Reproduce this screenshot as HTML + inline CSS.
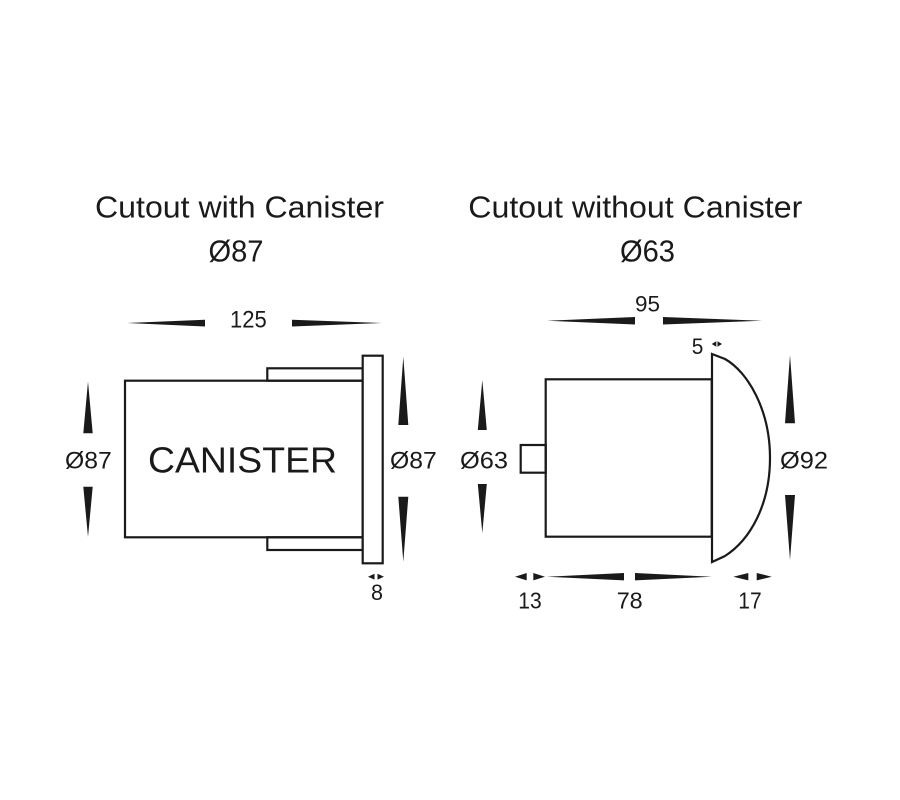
<!DOCTYPE html>
<html>
<head>
<meta charset="utf-8">
<style>
html,body{margin:0;padding:0;background:#fff;}
svg{display:block;}
text{font-family:"Liberation Sans",Arial,sans-serif;fill:#1a1a1a;}
</style>
</head>
<body>
<svg width="900" height="800" viewBox="0 0 900 800" xmlns="http://www.w3.org/2000/svg">
<rect width="900" height="800" fill="#fff"/>

<!-- Titles -->
<text x="95" y="217.3" font-size="31" textLength="289" lengthAdjust="spacingAndGlyphs">Cutout with Canister</text>
<text x="208.5" y="261.7" font-size="31" textLength="55" lengthAdjust="spacingAndGlyphs">Ø87</text>
<text x="468.3" y="217.3" font-size="31" textLength="334" lengthAdjust="spacingAndGlyphs">Cutout without Canister</text>
<text x="620" y="261.7" font-size="31" textLength="55" lengthAdjust="spacingAndGlyphs">Ø63</text>

<g fill="#1a1a1a" stroke="none">
  <!-- 125 -->
  <polygon points="127,323 205,319.8 205,326.5"/>
  <polygon points="292,319.8 292,326.5 382,323"/>
  <!-- left Ø87 -->
  <polygon points="88,381.5 83.3,433.3 92.7,433.3"/>
  <polygon points="83.3,486.7 92.7,486.7 88,537"/>
  <!-- right Ø87 -->
  <polygon points="403.3,356.7 398.3,425 408.3,425"/>
  <polygon points="398.3,496.7 408.3,496.7 403.3,561.7"/>
  <!-- 8 -->
  <polygon points="368,576.7 374.5,573.8 374.5,579.6"/>
  <polygon points="377.5,573.8 377.5,579.6 384,576.7"/>

  <!-- 95 -->
  <polygon points="547,320.7 635,317 635,324.5"/>
  <polygon points="663,317 663,324.5 762,320.7"/>
  <!-- 5 -->
  <polygon points="711.7,344 716.3,341.3 716.3,346.7"/>
  <polygon points="717.5,341.3 717.5,346.7 722,344"/>
  <!-- Ø63 -->
  <polygon points="482.3,380 477.8,430 486.8,430"/>
  <polygon points="477.8,484 486.8,484 482.3,533"/>
  <!-- Ø92 -->
  <polygon points="790,355 785,423.3 795,423.3"/>
  <polygon points="785,495 795,495 790,560"/>
  <!-- 13 -->
  <polygon points="515,576.7 526.7,573 526.7,580.4"/>
  <polygon points="533.3,573 533.3,580.4 545,576.7"/>
  <!-- 78 -->
  <polygon points="546.7,576.7 624,573 624,580.4"/>
  <polygon points="635,573 635,580.4 711.7,576.7"/>
  <!-- 17 -->
  <polygon points="733.3,576.7 748.3,573 748.3,580.4"/>
  <polygon points="756.7,573 756.7,580.4 771.7,576.7"/>
</g>

<!-- Left drawing: canister -->
<g fill="none" stroke="#1a1a1a" stroke-width="2.2">
  <rect x="125" y="380.7" width="237.7" height="156.6"/>
  <rect x="267.3" y="368.3" width="95.4" height="12.4"/>
  <rect x="267.3" y="537.3" width="95.4" height="12.7"/>
  <rect x="362.7" y="355.7" width="20" height="207.6" fill="#fff"/>
</g>

<!-- Right drawing -->
<g fill="none" stroke="#1a1a1a" stroke-width="2.2">
  <rect x="545.7" y="379.3" width="166" height="157.4"/>
  <rect x="520.7" y="445" width="25" height="27.7"/>
  <path d="M712,354 L725,359 C748,372 770,410 770,458 C770,505 750,540 725,556 L712,562 Z"/>
</g>

<!-- Labels -->
<text x="230" y="327.3" font-size="24" textLength="36.7" lengthAdjust="spacingAndGlyphs">125</text>
<text x="65" y="468.3" font-size="24" textLength="46.7" lengthAdjust="spacingAndGlyphs">Ø87</text>
<text x="148" y="472.7" font-size="36" textLength="189" lengthAdjust="spacingAndGlyphs">CANISTER</text>
<text x="390" y="468.3" font-size="24" textLength="46.7" lengthAdjust="spacingAndGlyphs">Ø87</text>
<text x="371" y="600" font-size="22" textLength="12" lengthAdjust="spacingAndGlyphs">8</text>

<text x="635" y="311.7" font-size="22" textLength="25" lengthAdjust="spacingAndGlyphs">95</text>
<text x="691.7" y="354" font-size="22" textLength="11.6" lengthAdjust="spacingAndGlyphs">5</text>
<text x="460" y="468.3" font-size="24" textLength="48" lengthAdjust="spacingAndGlyphs">Ø63</text>
<text x="780" y="468.3" font-size="24" textLength="48" lengthAdjust="spacingAndGlyphs">Ø92</text>
<text x="518.3" y="608.3" font-size="23.5" textLength="23.4" lengthAdjust="spacingAndGlyphs">13</text>
<text x="616.7" y="608.3" font-size="23.5" textLength="26" lengthAdjust="spacingAndGlyphs">78</text>
<text x="738.3" y="608.3" font-size="23.5" textLength="23.4" lengthAdjust="spacingAndGlyphs">17</text>
</svg>
</body>
</html>
